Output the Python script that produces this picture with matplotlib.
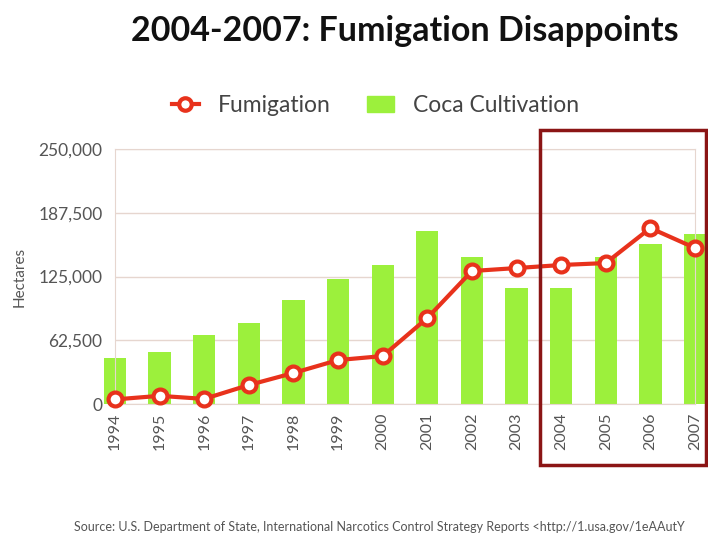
import matplotlib
matplotlib.use("Agg")
import matplotlib.pyplot as plt
from matplotlib.patches import Rectangle
from matplotlib.lines import Line2D
from matplotlib.patches import Patch

years = ['1994', '1995', '1996', '1997', '1998', '1999', '2000',
         '2001', '2002', '2003', '2004', '2005', '2006', '2007']
coca = [44700, 50900, 67200, 79400, 101800, 122500, 136200,
        169800, 144450, 113850, 114100, 144000, 157200, 167000]
fumigation = [4500, 8000, 5000, 18600, 30400, 43100, 47000,
              84300, 130400, 133300, 136300, 138200, 172500, 153000]
yticks = [0, 62500, 125000, 187500, 250000]
ytick_labels = ['0', '62,500', '125,000', '187,500', '250,000']

plt.rcParams['font.family'] = ['Lato', 'DejaVu Sans']

fig = plt.figure(figsize=(7.08, 5.42), dpi=100)
ax = fig.add_axes([0.1624, 0.2546, 0.8192, 0.4704])

x = list(range(len(years)))
ax.bar(x, coca, width=0.5, color='#9cf03c', clip_on=False, zorder=2)
ax.plot(x, fumigation, color='#e8321c', linewidth=3, marker='o', markersize=10,
        markerfacecolor='white', markeredgecolor='#e8321c', markeredgewidth=3,
        clip_on=False, zorder=3)

ax.set_xlim(0, 13)
ax.set_ylim(0, 250000)
ax.set_yticks(yticks)
ax.set_yticklabels(ytick_labels, color='#555555', fontsize=12.5)
ax.set_xticks(x)
ax.set_xticklabels(years, rotation=90, color='#555555', fontsize=11.5)
ax.tick_params(axis='y', length=0, pad=9)
ax.tick_params(axis='x', length=0, pad=6)
ax.grid(axis='y', color='#e6d6cf', linewidth=1, zorder=0)
for s in ax.spines.values():
    s.set_color('#e6d6cf')
ax.set_ylabel('Hectares', color='#555555', fontsize=11, labelpad=8)

fig.text(0.572, 0.943, '2004-2007: Fumigation Disappoints', ha='center', va='center',
         fontsize=24.5, fontweight='bold', color='#111111')

handles = [Line2D([], [], color='#e8321c', linewidth=3, marker='o', markersize=9,
                  markerfacecolor='white', markeredgewidth=3),
           Patch(color='#9cf03c')]
fig.legend(handles, ['Fumigation', 'Coca Cultivation'], loc='center',
           bbox_to_anchor=(0.53, 0.805), ncol=2, frameon=False, fontsize=16.5,
           handlelength=1.2, columnspacing=1.6, labelcolor='#444444')

fig.patches.append(Rectangle((540 / 708, 1 - 465 / 542), 166 / 708, 335 / 542,
                             transform=fig.transFigure, fill=False,
                             edgecolor='#8b1515', linewidth=2.5))

fig.text(0.105, 0.027, 'Source: U.S. Department of State, International Narcotics Control Strategy Reports <http://1.usa.gov/1eAAutY',
         fontsize=9, color='#555555', va='center')

fig.savefig('out.png', dpi=100)
